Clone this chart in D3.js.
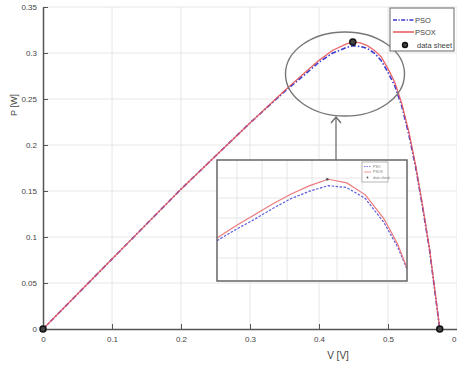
<!DOCTYPE html>
<html>
<head>
<meta charset="utf-8">
<script src="https://cdn.jsdelivr.net/npm/d3@7"></script>
<style>
  html, body { margin: 0; padding: 0; background: #fff; }
  svg { display: block; font-family: "Liberation Sans Narrow", "Liberation Sans", Arial, sans-serif; }
</style>
</head>
<body>
<svg id="chart" width="457" height="365"></svg>
<script>
// P-V curve: voltage samples and power for both estimators
const voltage = [0, 0.05, 0.1, 0.15, 0.2, 0.25, 0.3, 0.35, 0.38, 0.40, 0.42, 0.44, 0.45, 0.46, 0.47, 0.48, 0.49, 0.50, 0.51, 0.52, 0.53, 0.54, 0.55, 0.56, 0.57, 0.575];
const powerPSOX = [0, 0.038, 0.076, 0.114, 0.152, 0.188, 0.224, 0.259, 0.279, 0.292, 0.303, 0.310, 0.312, 0.311, 0.308, 0.303, 0.296, 0.283, 0.268, 0.245, 0.215, 0.178, 0.135, 0.088, 0.030, 0];
const powerPSO  = [0, 0.038, 0.076, 0.114, 0.152, 0.188, 0.224, 0.258, 0.277, 0.290, 0.300, 0.306, 0.308, 0.307, 0.305, 0.300, 0.292, 0.279, 0.264, 0.242, 0.212, 0.176, 0.133, 0.087, 0.029, 0];

// Data-sheet reference points (short circuit, MPP, open circuit)
const sheetV = [0, 0.449, 0.575];
const sheetP = [0, 0.312, 0];

// Zoomed view around the maximum power point
const insetV    = [0.33, 0.35, 0.37, 0.39, 0.41, 0.43, 0.45, 0.47, 0.49, 0.51, 0.525, 0.535];
const insetPSOX = [0.247, 0.260, 0.272, 0.284, 0.295, 0.304, 0.311, 0.307, 0.294, 0.268, 0.240, 0.214];
const insetPSO  = [0.244, 0.256, 0.267, 0.279, 0.290, 0.298, 0.304, 0.302, 0.290, 0.264, 0.237, 0.213];
const insetMPP  = [0.449, 0.311];

const xTicks = [0, 0.1, 0.2, 0.3, 0.4, 0.5, 0.6];
const yTicks = [0, 0.05, 0.1, 0.15, 0.2, 0.25, 0.3, 0.35];
const seriesNames = ["PSO", "PSOX", "data sheet"];

const RED = "#e4575c", BLUE = "#3a3ad0", AXIS = "#555", GRID = "#e6e6e6", TXT = "#444";

const svg = d3.select("#chart");

const x = d3.scaleLinear().domain([0, 0.6]).range([43, 457]);
const y = d3.scaleLinear().domain([0, 0.35]).range([329, 7]);

// grid
const grid = svg.append("g");
grid.selectAll("line.gx").data(xTicks.slice(1)).join("line")
  .attr("x1", d => x(d)).attr("x2", d => x(d))
  .attr("y1", y(0.35)).attr("y2", y(0))
  .attr("stroke", GRID).attr("stroke-width", 1);
grid.selectAll("line.gy").data(yTicks.slice(1)).join("line")
  .attr("x1", x(0)).attr("x2", x(0.6))
  .attr("y1", d => y(d)).attr("y2", d => y(d))
  .attr("stroke", GRID).attr("stroke-width", 1);

// axes with inward ticks
const xAxis = svg.append("g").attr("transform", `translate(0,${y(0)})`)
  .call(d3.axisBottom(x).tickValues(xTicks).tickFormat(d3.format("")).tickSizeInner(-5).tickSizeOuter(0).tickPadding(7));
const yAxis = svg.append("g").attr("transform", `translate(${x(0)},0)`)
  .call(d3.axisLeft(y).tickValues(yTicks).tickFormat(d3.format("")).tickSizeInner(-5).tickSizeOuter(0).tickPadding(6));
[xAxis, yAxis].forEach(a => {
  a.select(".domain").attr("stroke", AXIS).attr("stroke-width", 1.5);
  a.selectAll(".tick line").attr("stroke", AXIS).attr("stroke-width", 1);
  a.selectAll(".tick text").attr("fill", TXT).attr("font-size", 8)
    .attr("font-family", "'Liberation Sans Narrow', 'Liberation Sans', Arial, sans-serif");
});

// axis titles
svg.append("text").attr("x", 338).attr("y", 359).attr("text-anchor", "middle")
  .attr("font-size", 10).attr("fill", TXT).text("V [V]");
svg.append("text").attr("transform", "translate(17,105) rotate(-90)").attr("text-anchor", "middle")
  .attr("font-size", 9).attr("fill", TXT).text("P [W]");

// curves
const line = (xs, ys, sx, sy) => d3.line().x((d, i) => sx(xs[i])).y(d => sy(d))(ys);

svg.append("path").attr("d", line(voltage, powerPSO, x, y))
  .attr("fill", "none").attr("stroke", BLUE).attr("stroke-width", 1.6)
  .attr("stroke-dasharray", "5,2,1.5,2");
svg.append("path").attr("d", line(voltage, powerPSOX, x, y))
  .attr("fill", "none").attr("stroke", RED).attr("stroke-width", 1.3).attr("opacity", 0.9);

svg.selectAll("circle.sheet").data(sheetV).join("circle")
  .attr("cx", d => x(d)).attr("cy", (d, i) => y(sheetP[i])).attr("r", 3)
  .attr("fill", "#444").attr("stroke", "#111").attr("stroke-width", 1.5);

// highlight ellipse around the MPP
svg.append("ellipse").attr("cx", 345).attr("cy", 74).attr("rx", 59.5).attr("ry", 42)
  .attr("fill", "none").attr("stroke", "#777").attr("stroke-width", 1.4);

// arrow from the zoomed view up to the ellipse
svg.append("line").attr("x1", 336).attr("x2", 336).attr("y1", 160).attr("y2", 117)
  .attr("stroke", "#666").attr("stroke-width", 1.2);
svg.append("path").attr("d", "M331,123 L336,117 L341,123")
  .attr("fill", "none").attr("stroke", "#666").attr("stroke-width", 1.2);

// zoomed view
const ix = d3.scaleLinear().domain([0.33, 0.535]).range([217, 407]);
const iy = d3.scaleLinear().domain([0.20, 0.332]).range([281, 160]);
const inset = svg.append("g");
inset.append("rect").attr("x", 217).attr("y", 160).attr("width", 190).attr("height", 121)
  .attr("fill", "#fff");
inset.selectAll("line.igx").data(d3.range(237, 400, 25)).join("line")
  .attr("x1", d => d).attr("x2", d => d).attr("y1", 160).attr("y2", 281)
  .attr("stroke", GRID).attr("stroke-width", 1);
inset.selectAll("line.igy").data(d3.range(178, 270, 20)).join("line")
  .attr("x1", 217).attr("x2", 407).attr("y1", d => d).attr("y2", d => d)
  .attr("stroke", GRID).attr("stroke-width", 1);
inset.append("path").attr("d", line(insetV, insetPSO, ix, iy))
  .attr("fill", "none").attr("stroke", "#5b5be0").attr("stroke-width", 1.2)
  .attr("stroke-dasharray", "2.5,1.5");
inset.append("path").attr("d", line(insetV, insetPSOX, ix, iy))
  .attr("fill", "none").attr("stroke", "#ec7a7e").attr("stroke-width", 1.2);
inset.append("circle").attr("cx", ix(insetMPP[0])).attr("cy", iy(insetMPP[1])).attr("r", 1.3)
  .attr("fill", "#555");
inset.append("rect").attr("x", 217).attr("y", 160).attr("width", 190).attr("height", 121)
  .attr("fill", "none").attr("stroke", "#666").attr("stroke-width", 1.5);

// zoomed view legend
const il = inset.append("g").attr("transform", "translate(362,162)");
il.append("rect").attr("width", 26).attr("height", 20).attr("fill", "#fff").attr("stroke", "#888").attr("stroke-width", 0.6);
il.append("line").attr("x1", 2).attr("x2", 9).attr("y1", 4.5).attr("y2", 4.5).attr("stroke", "#5b5be0").attr("stroke-width", 0.8).attr("stroke-dasharray", "1.5,1");
il.append("line").attr("x1", 2).attr("x2", 9).attr("y1", 10).attr("y2", 10).attr("stroke", "#ec7a7e").attr("stroke-width", 0.8);
il.append("circle").attr("cx", 5.5).attr("cy", 15.5).attr("r", 0.9).attr("fill", "#555");
il.selectAll("text").data(seriesNames).join("text")
  .attr("x", 11).attr("y", (d, i) => 5.8 + i * 5.5).attr("font-size", 3.6).attr("fill", "#777").text(d => d);

// main legend
const lg = svg.append("g").attr("transform", "translate(390,8)");
lg.append("rect").attr("width", 64).attr("height", 43).attr("fill", "#fff").attr("stroke", "#666").attr("stroke-width", 1);
lg.append("line").attr("x1", 3).attr("x2", 24).attr("y1", 12).attr("y2", 12)
  .attr("stroke", BLUE).attr("stroke-width", 1.5).attr("stroke-dasharray", "4,1.5,1.2,1.5");
lg.append("line").attr("x1", 3).attr("x2", 24).attr("y1", 24).attr("y2", 24)
  .attr("stroke", RED).attr("stroke-width", 1.5);
lg.append("circle").attr("cx", 15).attr("cy", 37).attr("r", 2.5)
  .attr("fill", "#444").attr("stroke", "#111").attr("stroke-width", 1.4);
lg.selectAll("text").data(seriesNames).join("text")
  .attr("x", (d, i) => i < 2 ? 25 : 27).attr("y", (d, i) => 14.5 + i * 12.5)
  .attr("font-size", 7.5).attr("fill", TXT).text(d => d);
</script>
</body>
</html>
